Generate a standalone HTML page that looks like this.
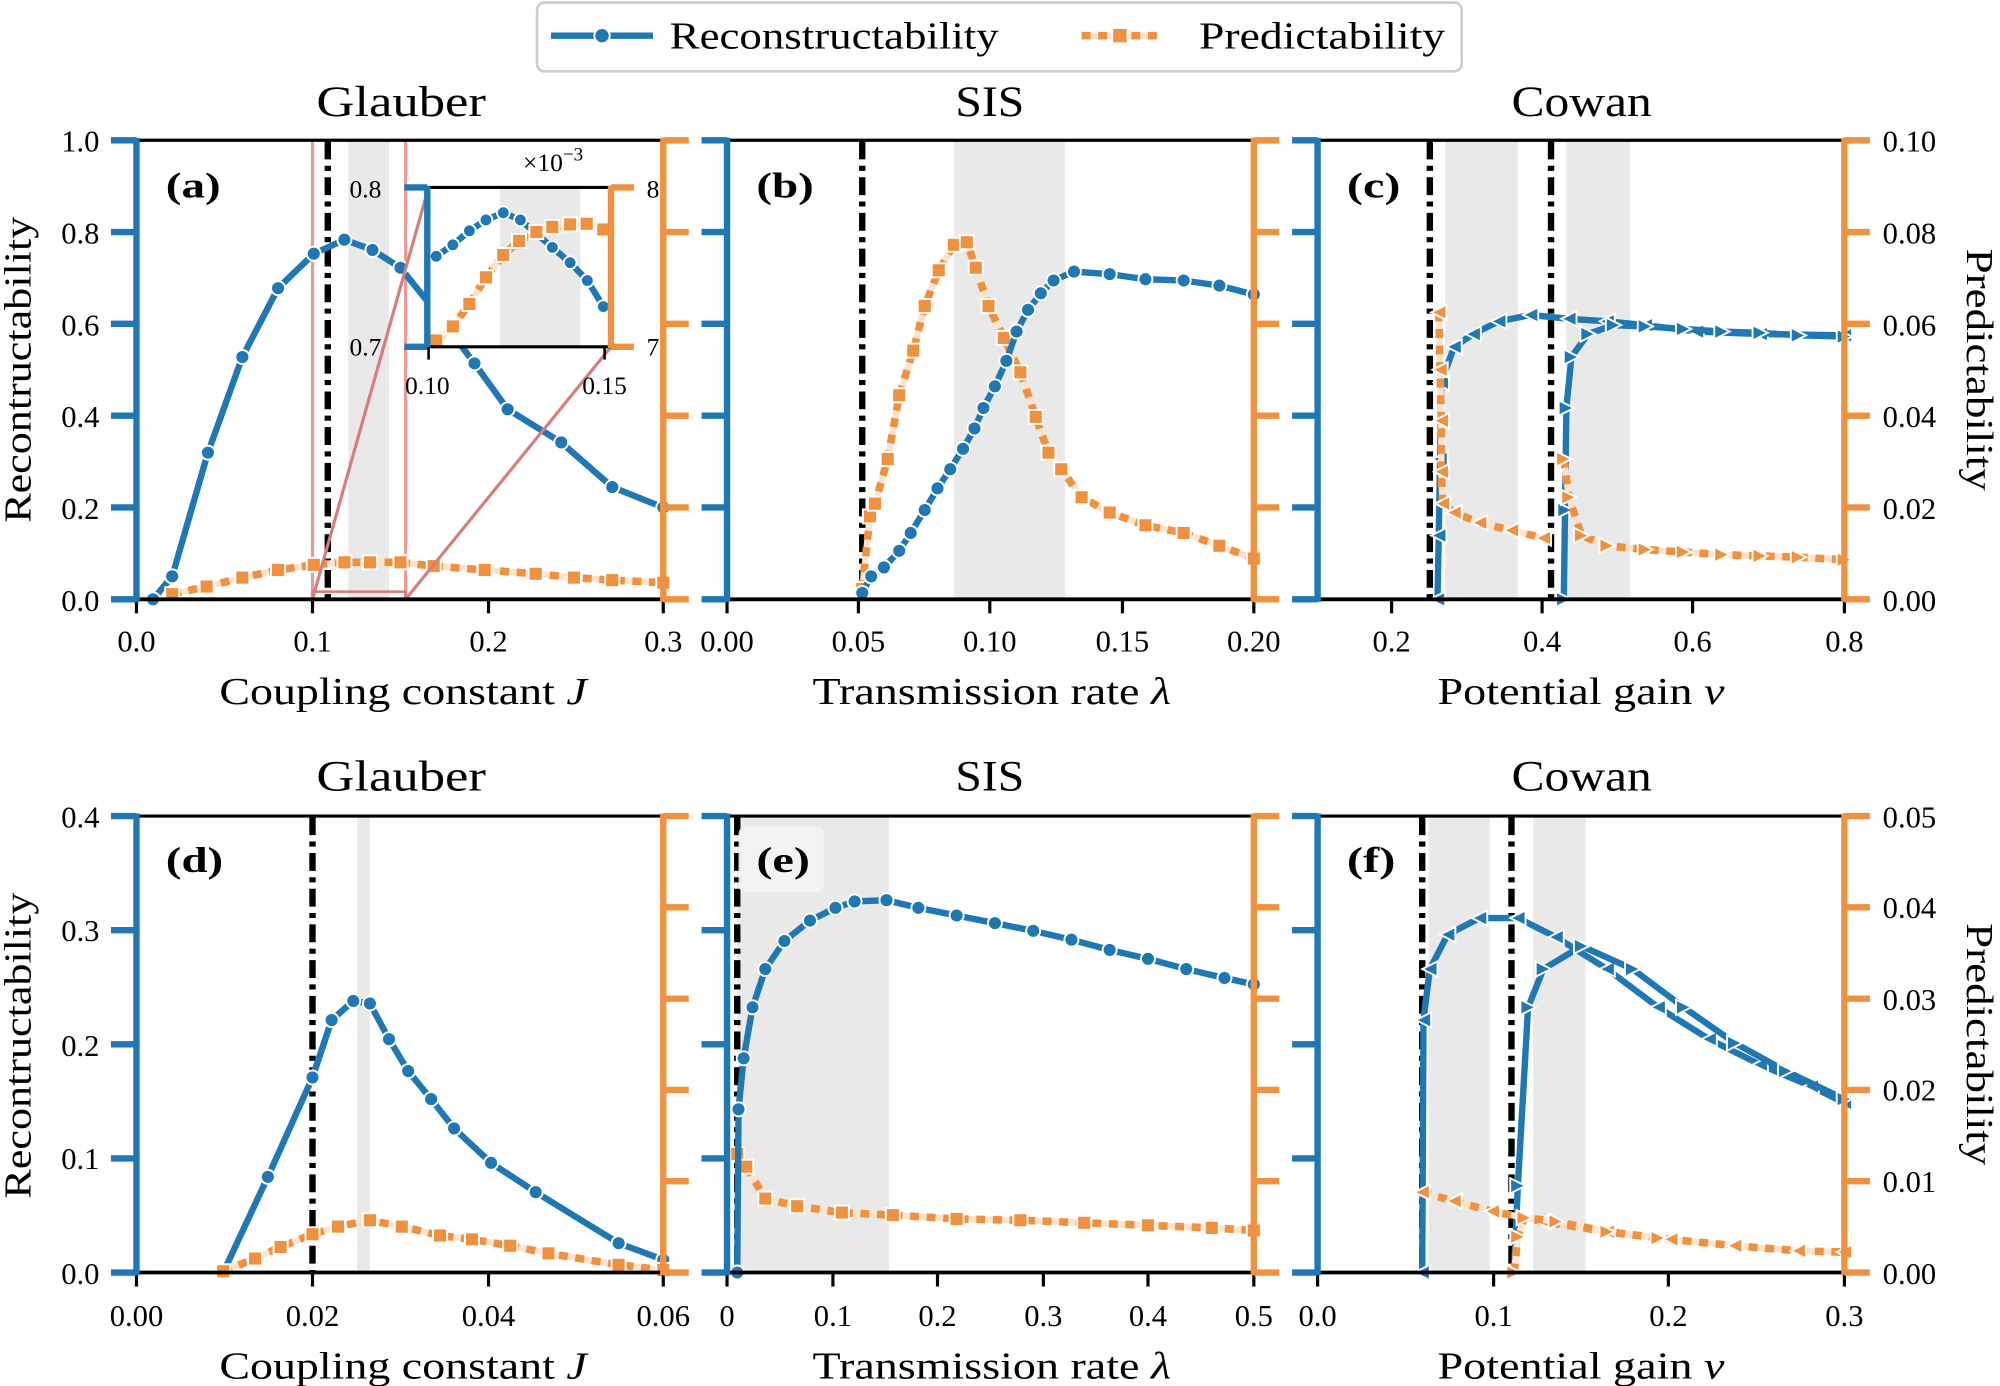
<!DOCTYPE html>
<html><head><meta charset="utf-8"><style>
html,body{margin:0;padding:0;background:#fff}
svg{display:block}
text{font-family:"Liberation Serif",serif;fill:#000}
.tk{font-size:24px}
.ax{font-size:30px}
.ti{font-size:34px}
.pl{font-size:28px;font-weight:bold}
</style></head><body>
<svg id="s" width="2000" height="1386" viewBox="0 0 1568 1087" preserveAspectRatio="none" xmlns="http://www.w3.org/2000/svg">
<g id="bg"></g>
<g id="data"></g>
<g id="axes"></g>
<!-- legend -->
<rect x="421" y="2" width="725" height="54" rx="6" fill="#fff" stroke="#ccc" stroke-width="2"/>
<line x1="432" y1="28" x2="512" y2="28" stroke="#1f77b4" stroke-width="5"/>
<circle cx="472" cy="28" r="6" fill="#1f77b4" stroke="#fff" stroke-width="1.5"/>
<text x="525" y="38" class="ax" textLength="258" lengthAdjust="spacingAndGlyphs">Reconstructability</text>
<line x1="848" y1="28" x2="908" y2="28" stroke="#fde3cc" stroke-width="5"/>
<line x1="848" y1="28" x2="908" y2="28" stroke="#f0913f" stroke-width="6" stroke-dasharray="7,6"/>
<rect x="872" y="22" width="12" height="12" fill="#f0913f" stroke="#fff" stroke-width="1.5"/>
<text x="940" y="38" class="ax" textLength="193" lengthAdjust="spacingAndGlyphs">Predictability</text>
<!-- titles -->
<text x="248" y="91" class="ti" textLength="133" lengthAdjust="spacingAndGlyphs">Glauber</text>
<text x="749" y="91" class="ti" textLength="54" lengthAdjust="spacingAndGlyphs">SIS</text>
<text x="1185" y="91" class="ti" textLength="110" lengthAdjust="spacingAndGlyphs">Cowan</text>
<text x="248" y="620" class="ti" textLength="133" lengthAdjust="spacingAndGlyphs">Glauber</text>
<text x="749" y="620" class="ti" textLength="54" lengthAdjust="spacingAndGlyphs">SIS</text>
<text x="1185" y="620" class="ti" textLength="110" lengthAdjust="spacingAndGlyphs">Cowan</text>
<!-- x labels -->
<text x="172" y="552" class="ax" textLength="288" lengthAdjust="spacingAndGlyphs">Coupling constant <tspan font-style="italic">J</tspan></text>
<text x="637" y="552" class="ax" textLength="281" lengthAdjust="spacingAndGlyphs">Transmission rate <tspan font-style="italic">λ</tspan></text>
<text x="1127" y="552" class="ax" textLength="225" lengthAdjust="spacingAndGlyphs">Potential gain <tspan font-style="italic">ν</tspan></text>
<text x="172" y="1081" class="ax" textLength="288" lengthAdjust="spacingAndGlyphs">Coupling constant <tspan font-style="italic">J</tspan></text>
<text x="637" y="1081" class="ax" textLength="281" lengthAdjust="spacingAndGlyphs">Transmission rate <tspan font-style="italic">λ</tspan></text>
<text x="1127" y="1081" class="ax" textLength="225" lengthAdjust="spacingAndGlyphs">Potential gain <tspan font-style="italic">ν</tspan></text>
<!-- y labels -->
<text transform="translate(24,410) rotate(-90)" class="ax" textLength="240" lengthAdjust="spacingAndGlyphs">Recontructability</text>
<text transform="translate(24,940) rotate(-90)" class="ax" textLength="240" lengthAdjust="spacingAndGlyphs">Recontructability</text>
<text transform="translate(1542,195) rotate(90)" class="ax" textLength="190" lengthAdjust="spacingAndGlyphs">Predictability</text>
<text transform="translate(1542,724) rotate(90)" class="ax" textLength="190" lengthAdjust="spacingAndGlyphs">Predictability</text>
<!-- left tick labels -->
<g class="tk" text-anchor="end">
<text x="78" y="119">1.0</text><text x="78" y="191">0.8</text><text x="78" y="263">0.6</text><text x="78" y="335">0.4</text><text x="78" y="407">0.2</text><text x="78" y="479">0.0</text>
<text x="78" y="649">0.4</text><text x="78" y="738">0.3</text><text x="78" y="828">0.2</text><text x="78" y="917">0.1</text><text x="78" y="1007">0.0</text>
</g>
<g class="tk" text-anchor="start">
<text x="1476" y="119">0.10</text><text x="1476" y="191">0.08</text><text x="1476" y="263">0.06</text><text x="1476" y="335">0.04</text><text x="1476" y="407">0.02</text><text x="1476" y="479">0.00</text>
<text x="1476" y="649">0.05</text><text x="1476" y="720">0.04</text><text x="1476" y="792">0.03</text><text x="1476" y="863">0.02</text><text x="1476" y="935">0.01</text><text x="1476" y="1007">0.00</text>
</g>
<g class="tk" text-anchor="middle">
<text x="107" y="511">0.0</text><text x="245" y="511">0.1</text><text x="383" y="511">0.2</text><text x="520" y="511">0.3</text>
<text x="570" y="511">0.00</text><text x="673" y="511">0.05</text><text x="776" y="511">0.10</text><text x="880" y="511">0.15</text><text x="983" y="511">0.20</text>
<text x="1091" y="511">0.2</text><text x="1209" y="511">0.4</text><text x="1327" y="511">0.6</text><text x="1446" y="511">0.8</text>
<text x="107" y="1040">0.00</text><text x="245" y="1040">0.02</text><text x="383" y="1040">0.04</text><text x="520" y="1040">0.06</text>
<text x="570" y="1040">0</text><text x="653" y="1040">0.1</text><text x="735" y="1040">0.2</text><text x="818" y="1040">0.3</text><text x="900" y="1040">0.4</text><text x="983" y="1040">0.5</text>
<text x="1033" y="1040">0.0</text><text x="1171" y="1040">0.1</text><text x="1308" y="1040">0.2</text><text x="1446" y="1040">0.3</text>
</g>
<!-- panel labels -->
<rect x="579" y="648" width="67" height="52" rx="6" fill="#f4f4f4" opacity="0.9"/>
<g class="pl">
<text x="130" y="155" textLength="43" lengthAdjust="spacingAndGlyphs">(a)</text><text x="593" y="155" textLength="45" lengthAdjust="spacingAndGlyphs">(b)</text><text x="1056" y="155" textLength="42" lengthAdjust="spacingAndGlyphs">(c)</text>
<text x="130" y="684" textLength="45" lengthAdjust="spacingAndGlyphs">(d)</text><text x="593" y="684" textLength="42" lengthAdjust="spacingAndGlyphs">(e)</text><text x="1056" y="684" textLength="38" lengthAdjust="spacingAndGlyphs">(f)</text>
</g>
<g id="inset"></g>
<text x="274" y="155" class="tk" style="font-size:20px">0.8</text>
<text x="274" y="279" class="tk" style="font-size:20px">0.7</text>
<text x="507" y="155" class="tk" style="font-size:20px">8</text>
<text x="507" y="279" class="tk" style="font-size:20px">7</text>
<text x="335" y="309" class="tk" text-anchor="middle" style="font-size:20px">0.10</text>
<text x="474" y="309" class="tk" text-anchor="middle" style="font-size:20px">0.15</text>
<text x="410" y="134" class="tk" style="font-size:20px">×10<tspan dy="-8" font-size="15">−3</tspan></text>
</svg>
<script>
const NS="http://www.w3.org/2000/svg";
function el(p,t,a){const e=document.createElementNS(NS,t);for(const k in a)e.setAttribute(k,a[k]);document.getElementById(p).appendChild(e);return e;}
const B="#1f77b4",O="#f0913f",P="#fde3cc";
function pl(pts){return pts.map(p=>p.join(",")).join(" ");}
function blue(g,pts,m,r){el(g,"polyline",{points:pl(pts),fill:"none",stroke:B,"stroke-width":5,"stroke-linejoin":"round"});
 pts.forEach(p=>mark(g,p,m||"o",B,r));}
function orange(g,pts,m,r){el(g,"polyline",{points:pl(pts),fill:"none",stroke:P,"stroke-width":5});
 el(g,"polyline",{points:pl(pts),fill:"none",stroke:O,"stroke-width":6,"stroke-dasharray":"7,6"});
 pts.forEach(p=>mark(g,p,m||"s",O,r));}
function mark(g,p,m,c,r){const [x,y]=p;r=r||5.5;
 if(m=="o")el(g,"circle",{cx:x,cy:y,r:r,fill:c,stroke:"#fff","stroke-width":1.5});
 else if(m=="s")el(g,"rect",{x:x-r,y:y-r,width:2*r,height:2*r,fill:c,stroke:"#fff","stroke-width":1.5});
 else if(m=="<")el(g,"polygon",{points:`${x-r},${y} ${x+r},${y-r} ${x+r},${y+r}`,fill:c,stroke:"#fff","stroke-width":1.5});
 else if(m==">")el(g,"polygon",{points:`${x+r},${y} ${x-r},${y-r} ${x-r},${y+r}`,fill:c,stroke:"#fff","stroke-width":1.5});}
function gray(x1,x2,t,b){el("bg","rect",{x:x1,y:t,width:x2-x1,height:b-t,fill:"#e9e9e9"});}
function dd(x,t,b){el("data","line",{x1:x,y1:t,x2:x,y2:b,stroke:"#000","stroke-width":5,"stroke-dasharray":"14,5,4,5"});}
function axes(L,R,T,Bt,lt,rt,xt){
 el("axes","line",{x1:L,y1:T,x2:R,y2:T,stroke:"#000","stroke-width":2.5});
 el("axes","line",{x1:L,y1:Bt,x2:R,y2:Bt,stroke:"#000","stroke-width":3});
 xt.forEach(x=>el("axes","line",{x1:x,y1:Bt,x2:x,y2:Bt+11,stroke:"#000","stroke-width":2.5}));
 el("axes","line",{x1:L,y1:T-2,x2:L,y2:Bt+2,stroke:B,"stroke-width":5});
 el("axes","line",{x1:R,y1:T-2,x2:R,y2:Bt+2,stroke:O,"stroke-width":5});
 lt.forEach(y=>el("axes","line",{x1:L-20,y1:y,x2:L,y2:y,stroke:B,"stroke-width":5}));
 rt.forEach(y=>el("axes","line",{x1:R,y1:y,x2:R+20,y2:y,stroke:O,"stroke-width":5}));}
const r1=[110,182,254,326,398,470];
const l2=[640,729.5,819,908.5,998], r2=[640,711.6,783.2,854.8,926.4,998];
axes(107,520,110,470,r1,r1,[107,245,383,520]);
axes(570,983,110,470,r1,r1,[570,673,776,880,983]);
axes(1033,1446,110,470,r1,r1,[1091,1209,1327,1446]);
axes(107,520,640,998,l2,r2,[107,245,383,520]);
axes(570,983,640,998,l2,r2,[570,653,735,818,900,983]);
axes(1033,1446,640,998,l2,r2,[1033,1171,1308,1446]);
// (a)
gray(273,305,111,469);
el("data","line",{x1:245,y1:111,x2:245,y2:470,stroke:"#eb9a98","stroke-width":2.5});
el("data","line",{x1:318,y1:111,x2:318,y2:470,stroke:"#eb9a98","stroke-width":2.5});
el("data","rect",{x:245,y:464,width:73,height:6,fill:"none",stroke:"#d47f7c","stroke-width":2});
dd(257,111,469);
blue("data",[[120,470],[135,452],[163,355],[190,280],[218,226],[246,199],[270,188],[292,196],[314,210],[338,240],[372,285],[398,321],[440,347],[480,382],[520,398]]);
orange("data",[[135,466],[162,460],[190,453],[218,447],[246,443],[270,441],[290,441],[314,441],[340,444],[380,447],[420,450],[450,453],[480,455],[520,457]]);
el("data","line",{x1:245,y1:470,x2:336,y2:147,stroke:"#d47f7c","stroke-width":2.5});
el("data","line",{x1:318,y1:470,x2:479,y2:272,stroke:"#d47f7c","stroke-width":2.5});
// inset
el("inset","rect",{x:336,y:147,width:143,height:125,fill:"#fff"});
el("inset","rect",{x:392,y:147,width:63,height:125,fill:"#e9e9e9"});
blue("inset",[[342,201],[355,192],[368,181],[381,172.5],[394.6,166.8],[408,172.5],[433,194],[447,206],[460.5,220],[473,240.4]],"o",5);
orange("inset",[[342,267],[355,256],[368,238.4],[381,217.5],[394.6,200],[407,189],[420.5,182],[433,178],[447,176],[460,175.5],[473,180]],"s",5.5);
el("inset","line",{x1:335,y1:147,x2:479,y2:147,stroke:"#000","stroke-width":2.5});
el("inset","line",{x1:335,y1:272,x2:479,y2:272,stroke:"#000","stroke-width":2.5});
el("inset","line",{x1:335,y1:146,x2:335,y2:273,stroke:B,"stroke-width":5});
el("inset","line",{x1:479,y1:146,x2:479,y2:273,stroke:O,"stroke-width":5});
[147,272].forEach(y=>{el("inset","line",{x1:317,y1:y,x2:335,y2:y,stroke:B,"stroke-width":5});el("inset","line",{x1:479,y1:y,x2:497,y2:y,stroke:O,"stroke-width":5});});
el("inset","line",{x1:336,y1:272,x2:336,y2:282,stroke:"#000","stroke-width":2});
el("inset","line",{x1:474,y1:272,x2:474,y2:282,stroke:"#000","stroke-width":2});
// (b)
gray(748,835,111,469);
dd(676,111,469);
orange("data",[[676,462],[682,405],[686,395],[696,360],[705,310],[716,275],[725,240],[736,212],[748,192],[758,190],[765,210],[775,240],[787,265],[800,292],[812,327],[822,355],[832,368],[848,390],[870,402],[898,412],[928,418],[956,428],[983,438]]);
blue("data",[[676,465],[683,452],[693,445],[705,432],[714,418],[725,400],[735,383],[745,368],[755,352],[764,336],[771,320],[780,303],[789,283],[797,260],[806,243],[816,230],[826,220],[842,213],[870,215],[898,219],[928,220],[956,224],[983,231]]);
// (c)
gray(1133,1190,111,469);gray(1228,1278,111,469);
dd(1121,111,469);dd(1216,111,469);
blue("data",[[1127,470],[1128,420],[1129,360],[1130,300],[1140,272],[1155,262],[1175,252],[1200,247],[1230,250],[1260,252],[1290,255],[1330,260],[1380,262],[1446,263]],"<",6);
blue("data",[[1226,470],[1227,400],[1228,320],[1232,280],[1245,262],[1265,255],[1290,256],[1320,258],[1350,260],[1380,261],[1410,263],[1446,264]],">",6);
orange("data",[[1128,245],[1129,290],[1130,330],[1130,370],[1131,395],[1140,402],[1160,410],[1185,416],[1210,422]],"<",6);
orange("data",[[1226,360],[1230,390],[1240,420],[1260,428],[1290,431],[1320,433],[1350,435],[1380,436],[1410,437],[1446,439]],">",6);
// (d)
gray(280,290,641,997);
dd(245,641,997);
blue("data",[[175,998],[210,923],[245,845],[260,800],[277,785],[290,787],[305,815],[320,840],[338,862],[356,885],[385,912],[420,935],[485,975],[520,988]]);
orange("data",[[175,997],[200,987],[220,978],[245,968],[265,962],[290,957],[315,962],[345,969],[370,972],[400,977],[430,983],[485,992],[520,996]]);
// (e)
gray(578,697,641,997);
dd(578,641,997);
orange("data",[[578,905],[585,915],[600,940],[625,946],[660,951],[700,953],[750,956],[800,957],[850,959],[900,961],[950,963],[983,965]]);
blue("data",[[578,998],[579,870],[583,830],[590,790],[600,760],[615,738],[635,722],[655,712],[670,707],[695,706],[720,712],[750,718],[780,724],[810,730],[840,737],[870,745],[900,752],[930,760],[960,767],[983,772]]);
// (f)
gray(1120,1168,641,997);gray(1202,1243,641,997);
dd(1115,641,997);dd(1185,641,997);
blue("data",[[1115,998],[1116,800],[1121,760],[1135,733],[1160,720],[1190,720],[1220,735],[1260,760],[1300,790],[1340,815],[1380,835],[1420,852],[1446,865]],"<",6);
blue("data",[[1187,998],[1190,930],[1198,790],[1210,760],[1240,742],[1280,760],[1320,790],[1360,818],[1400,840],[1446,862]],">",6);
orange("data",[[1115,935],[1140,942],[1170,950],[1210,958],[1260,966],[1310,972],[1360,977],[1410,981],[1446,982]],"<",6);
orange("data",[[1187,998],[1190,970],[1195,955],[1220,958],[1260,966],[1300,971]],">",6);
</script>
</body></html>
